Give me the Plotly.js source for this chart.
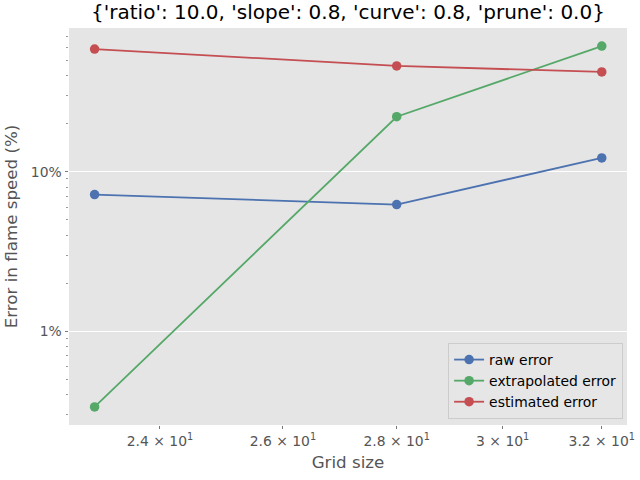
<!DOCTYPE html>
<html>
<head>
<meta charset="utf-8">
<script src="https://cdn.plot.ly/plotly-3.0.1.min.js"></script>
<style>html,body{margin:0;padding:0;background:#fff;}#chart{width:640px;height:480px;}</style>
</head>
<body>
<div id="chart"></div>
<script>
const gridSize = [23, 28, 32];
const rawError = [7.18, 6.22, 12.2];
const extrapolatedError = [0.335, 22.1, 61.3];
const estimatedError = [58.7, 46.0, 42.2];
const seriesNames = ["raw error", "extrapolated error", "estimated error"];
const seriesColors = ["#4C72B0", "#55A868", "#C44E52"];

const xTickVals = [24, 26, 28, 30, 32];
const xTickText = ["2.4 × 10<sup>1</sup>", "2.6 × 10<sup>1</sup>", "2.8 × 10<sup>1</sup>", "3 × 10<sup>1</sup>", "3.2 × 10<sup>1</sup>"];
const yTickVals = [1, 10];
const yTickText = ["1%", "10%"];
const yMinorVals = [0.3, 0.4, 0.5, 0.6, 0.7, 0.8, 0.9, 2, 3, 4, 5, 6, 7, 8, 9, 20, 30, 40, 50, 60, 70, 80];

const ys = [rawError, extrapolatedError, estimatedError];
const traces = ys.map((y, i) => ({
  x: gridSize, y: y, name: seriesNames[i], type: "scatter", mode: "lines+markers",
  line: {color: seriesColors[i], width: 1.8},
  marker: {color: seriesColors[i], size: 9.5}
}));

const font = "DejaVu Sans, sans-serif";
const layout = {
  width: 640, height: 480,
  margin: {l: 69, r: 13, t: 28, b: 55},
  paper_bgcolor: "#ffffff", plot_bgcolor: "#E5E5E5",
  font: {family: font, size: 13.9, color: "#555555"},
  title: {text: "{'ratio': 10.0, 'slope': 0.8, 'curve': 0.8, 'prune': 0.0}", font: {family: font, size: 20, color: "#000000"}, x: 0.5, xref: "paper", y: 0.976, yanchor: "middle"},
  xaxis: {
    type: "log", range: [Math.log10(22.62), Math.log10(32.53)],
    tickmode: "array", tickvals: xTickVals, ticktext: xTickText,
    ticks: "outside", ticklen: 3, tickcolor: "#555555", tickwidth: 0.8,
    showgrid: false, zeroline: false, showline: false,
    tickfont: {family: font, size: 13.9, color: "#555555"},
    title: {text: "Grid size", font: {family: font, size: 16.7, color: "#555555"}, standoff: 8}
  },
  yaxis: {
    type: "log", range: [-0.588, 1.9006],
    tickmode: "array", tickvals: yTickVals, ticktext: yTickText,
    ticks: "outside", ticklen: 3.5, tickcolor: "#555555", tickwidth: 0.8,
    showgrid: true, gridcolor: "#ffffff", gridwidth: 1, zeroline: false, showline: false,
    minor: {tickmode: "array", tickvals: yMinorVals, ticks: "outside", ticklen: 2, tickcolor: "#555555", tickwidth: 0.6, showgrid: false},
    tickfont: {family: font, size: 13.9, color: "#555555"},
    title: {text: "Error in flame speed (%)", font: {family: font, size: 16.7, color: "#555555"}, standoff: 8}
  },
  legend: {
    x: 0.993, xanchor: "right", y: 0.015, yanchor: "bottom",
    bgcolor: "rgba(229,229,229,0.9)", bordercolor: "#cccccc", borderwidth: 1,
    font: {family: font, size: 13.9, color: "#000000"},
    tracegroupgap: 0, itemwidth: 30
  },
  showlegend: true
};
Plotly.newPlot("chart", traces, layout, {displayModeBar: false, staticPlot: true});
</script>
</body>
</html>
